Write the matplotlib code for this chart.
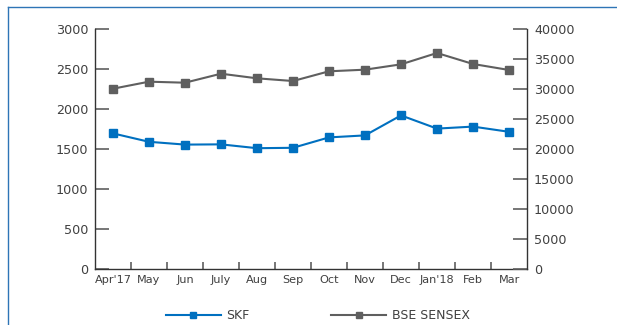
import matplotlib.pyplot as plt
from matplotlib.lines import Line2D
import numpy as np

plt.rcParams['font.family'] = ['DejaVu Sans']

months = ["Apr'17", "May", "Jun", "July", "Aug", "Sep", "Oct", "Nov", "Dec", "Jan'18", "Feb", "Mar"]
skf = [1695, 1590, 1555, 1558, 1510, 1515, 1645, 1670, 1920, 1755, 1780, 1715]
sensex = [30050, 31220, 31050, 32550, 31780, 31330, 32950, 33220, 34110, 36000, 34170, 33170]

blue = "#0070c0"
grey = "#5f5f5f"
textcol = "#404040"

fig = plt.figure(figsize=(6.17, 3.25), dpi=100)
ax = fig.add_axes([95/617, 1-269/325, 432/617, 240/325])
ax2 = ax.twinx()

x = np.arange(len(months))
ax.plot(x, skf, color=blue, lw=1.5, marker='s', ms=5.5, zorder=3)
ax2.plot(x, sensex, color=grey, lw=1.5, marker='s', ms=5.5)

ax.set_xlim(-0.5, len(months)-0.5)
ax.set_ylim(0, 3000)
ax.set_yticks(np.arange(0, 3001, 500))
ax2.set_ylim(0, 40000)
ax2.set_yticks(np.arange(0, 40001, 5000))

ax.set_xticks(x)
ax.set_xticklabels(months)
ax.set_xticks(np.arange(0.5, len(months)-0.5, 1), minor=True)
ax.tick_params(axis='x', which='major', length=0, pad=4.5, labelsize=8.1, labelcolor=textcol)
ax.tick_params(axis='x', which='minor', direction='in', length=5, width=1.2, color=grey)
ax.tick_params(axis='y', direction='in', length=10, width=1.2, color=grey, pad=5,
               labelsize=9.2, labelcolor=textcol)
ax2.tick_params(axis='y', direction='in', length=10, width=1.2, color=grey, pad=5,
                labelsize=9.2, labelcolor=textcol)

for a in (ax, ax2):
    a.spines['top'].set_visible(False)
    for s in ('left', 'right', 'bottom'):
        a.spines[s].set_color("#333333")
        a.spines[s].set_linewidth(1.0)
ax.spines['right'].set_visible(False)
ax2.spines['left'].set_visible(False)
ax2.spines['bottom'].set_visible(False)

# outer frame (left and top edges only)
fig.add_artist(Line2D([8/617, 8/617], [0, 1-7/325], color="#2e75b6", lw=1.0))
fig.add_artist(Line2D([8/617, 1], [1-7/325, 1-7/325], color="#2e75b6", lw=1.0))

handles = [Line2D([], [], color=blue, lw=1.5, marker='s', ms=4),
           Line2D([], [], color=grey, lw=1.5, marker='s', ms=4)]
fig.legend(handles, ["SKF", "BSE SENSEX"], loc='center', bbox_to_anchor=(0.515, 0.028),
           ncol=2, frameon=False, fontsize=9, handlelength=4.4, handletextpad=0.45,
           columnspacing=6.5, labelcolor=textcol)

plt.savefig("out.png", dpi=100)
